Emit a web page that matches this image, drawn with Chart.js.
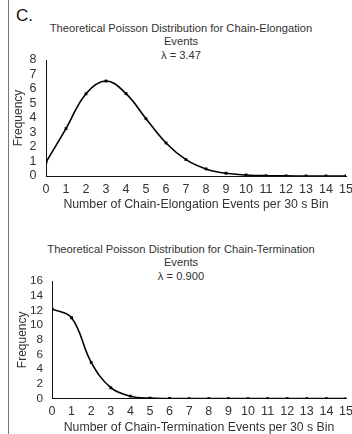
<!DOCTYPE html>
<html>
<head>
<meta charset="utf-8">
<script src="https://cdn.jsdelivr.net/npm/chart.js@4.4.1/dist/chart.umd.min.js"></script>
<style>
    body { margin: 0; background: #fff; width: 352px; height: 434px; overflow: hidden; position: relative; font-family: "Liberation Sans", Arial, sans-serif; }
    .edge { position: absolute; left: 8px; top: 0; width: 1px; height: 434px; background: #777; }
    .panel-label { position: absolute; left: 16px; top: 6px; font-size: 17px; color: #111; }
    .chart-title { position: absolute; left: 10px; width: 342px; text-align: center; font-size: 11.2px; line-height: 13.3px; color: #333; }
    #title1 { top: 22px; }
    #title2 { top: 243px; }
    .chart-box { position: absolute; left: 10px; width: 342px; }
    #box1 { top: 52px; height: 160px; }
    #box2 { top: 273px; height: 162px; }
</style>
</head>
<body>
<div class="edge"></div>
<div class="panel-label">C.</div>
<div class="chart-title" id="title1"></div>
<div class="chart-title" id="title2"></div>
<div class="chart-box" id="box1"><canvas id="elongationChart"></canvas></div>
<div class="chart-box" id="box2"><canvas id="terminationChart"></canvas></div>
<script>
// events per 30 s bin
const eventCounts = [0, 1, 2, 3, 4, 5, 6, 7, 8, 9, 10, 11, 12, 13, 14, 15];

const elongationFreq = [0.95, 3.27, 5.67, 6.55, 5.68, 3.95, 2.28, 1.13, 0.49, 0.19, 0.07, 0.02, 0.01, 0, 0, 0];
const terminationFreq = [12.2, 11.0, 4.94, 1.48, 0.33, 0.06, 0.01, 0, 0, 0, 0, 0, 0, 0, 0, 0];

const elongationTitle = ['Theoretical Poisson Distribution for Chain-Elongation', 'Events', 'λ = 3.47'];
const terminationTitle = ['Theoretical Poisson Distribution for Chain-Termination', 'Events', 'λ = 0.900'];

const FONT = '"Liberation Sans", Arial, sans-serif';
const TEXT = '#333';

function makePoints(values) {
    return eventCounts.map((x, i) => ({ x: x, y: values[i] }));
}

function setTitle(id, lines) {
    const el = document.getElementById(id);
    lines.forEach((line) => {
        const row = document.createElement('div');
        row.textContent = line;
        el.appendChild(row);
    });
}

/**
 * Builds one smoothed Poisson line chart.
 * Axis sizes are fixed and the automatic label padding is dropped,
 * so the plot area lands where the figure has it.
 */
function renderPoissonChart(id, values, cfg) {
    const ctx = document.getElementById(id);
    return new Chart(ctx, {
        type: 'line',
        data: {
            datasets: [{
                data: makePoints(values),
                borderColor: '#000',
                backgroundColor: '#000',
                borderWidth: 1.6,
                tension: 0.4,
                pointStyle: 'rect',
                pointRadius: 2,
                pointBorderWidth: 0,
                fill: false
            }]
        },
        options: {
            responsive: true,
            maintainAspectRatio: false,
            animation: false,
            layout: { padding: { top: 8, right: 6, bottom: 0, left: 0 } },
            plugins: {
                legend: { display: false },
                tooltip: { enabled: false }
            },
            scales: {
                x: {
                    type: 'linear',
                    min: 0,
                    max: 15,
                    grid: { display: false, drawTicks: false },
                    border: { color: '#111', width: 1 },
                    ticks: {
                        stepSize: 1, padding: cfg.xPad, autoSkip: false, maxRotation: 0, minRotation: 0,
                        color: TEXT, font: { family: FONT, size: 12.5 }
                    },
                    title: { display: true, text: cfg.xLabel, color: TEXT, font: { family: FONT, size: 12.3 }, padding: 0 },
                    afterFit: (scale) => {
                        scale.height = cfg.xHeight;
                        scale.paddingLeft = 0;
                        scale.paddingRight = 0;
                    }
                },
                y: {
                    min: 0,
                    max: cfg.yMax,
                    grid: { display: false, drawTicks: false },
                    border: { color: '#111', width: 1 },
                    ticks: {
                        stepSize: cfg.yStep, padding: cfg.yPad, autoSkip: false,
                        color: TEXT, font: { family: FONT, size: cfg.yFont }
                    },
                    title: { display: true, text: 'Frequency', color: TEXT, font: { family: FONT, size: 12 }, padding: { top: cfg.yTitlePad, bottom: 0 } },
                    afterFit: (scale) => {
                        scale.width = cfg.yWidth;
                        scale.paddingTop = 0;
                        scale.paddingBottom = 0;
                    }
                }
            }
        }
    });
}

setTitle('title1', elongationTitle);
setTitle('title2', terminationTitle);

renderPoissonChart('elongationChart', elongationFreq, {
    yMax: 8, yStep: 1, yWidth: 36, yPad: 9.5, yFont: 12.5, yTitlePad: 1.8,
    xPad: 6.5, xHeight: 36, xLabel: 'Number of Chain-Elongation Events per 30 s Bin'
});
renderPoissonChart('terminationChart', terminationFreq, {
    yMax: 16, yStep: 2, yWidth: 42, yPad: 9, yFont: 11.8, yTitlePad: 5.5,
    xPad: 5, xHeight: 36.4, xLabel: 'Number of Chain-Termination Events per 30 s Bin'
});
</script>
</body>
</html>
